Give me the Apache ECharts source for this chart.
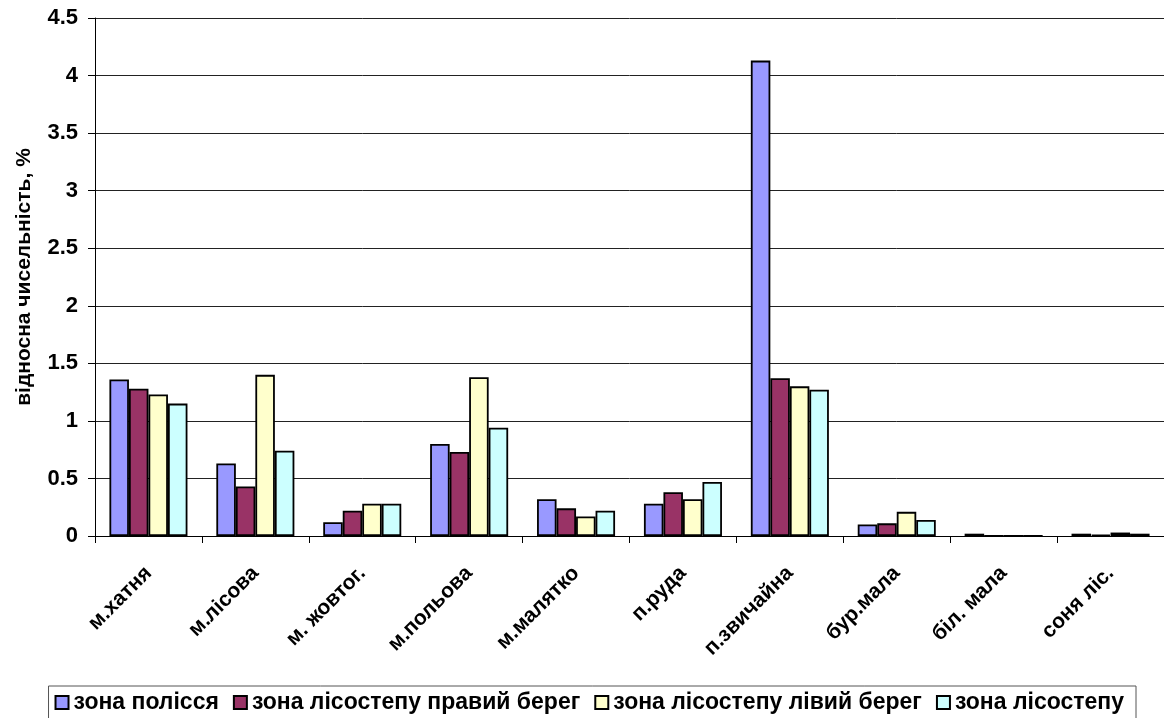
<!DOCTYPE html>
<html>
<head>
<meta charset="utf-8">
<script src="https://cdn.jsdelivr.net/npm/echarts@6/dist/echarts.min.js"></script>
<style>
  html, body { margin: 0; padding: 0; background: #fff; }
  #chart { width: 1164px; height: 718px; }
</style>
</head>
<body>
<div id="chart"></div>
<script>
// Species (categories along the x axis)
const categories = ['м.хатня', 'м.лісова', 'м. жовтог.', 'м.польова', 'м.малятко',
                    'п.руда', 'п.звичайна', 'бур.мала', 'біл. мала', 'соня ліс.'];

// Relative abundance, % — one array per zone
const polissia       = [1.36, 0.63, 0.12, 0.80, 0.32, 0.28, 4.13, 0.10, 0.02, 0.02];
const lisostepRight  = [1.28, 0.43, 0.22, 0.73, 0.24, 0.38, 1.37, 0.11, 0,    0.01];
const lisostepLeft   = [1.23, 1.40, 0.28, 1.38, 0.17, 0.32, 1.30, 0.21, 0,    0.03];
const lisostep       = [1.15, 0.74, 0.28, 0.94, 0.22, 0.47, 1.27, 0.14, 0,    0.02];

const seriesNames = ['зона полісся', 'зона лісостепу правий берег',
                     'зона лісостепу лівий берег', 'зона лісостепу'];
const seriesColors = ['#9999FF', '#993366', '#FFFFCC', '#CCFFFF'];
const seriesData = [polissia, lisostepRight, lisostepLeft, lisostep];

const yAxisName = 'відносна чисельність, %';

const FONT = '"Liberation Sans", Arial, sans-serif';

const chart = echarts.init(document.getElementById('chart'));

chart.setOption({
  animation: false,
  backgroundColor: '#fff',
  textStyle: { fontFamily: FONT },
  grid: { left: 95, right: -5, top: 18, bottom: 182, containLabel: false },
  legend: {
    right: 28,
    top: 686,
    data: seriesNames,
    itemWidth: 13,
    itemHeight: 13,
    itemGap: 14,
    padding: [5, 12, 5, 6],
    borderColor: '#555',
    borderWidth: 1,
    backgroundColor: '#fff',
    icon: 'rect',
    textStyle: { fontFamily: FONT, fontWeight: 'bold', fontSize: 23, color: '#000' }
  },
  xAxis: {
    type: 'category',
    data: categories,
    axisLine: { lineStyle: { color: '#000', width: 1 } },
    axisTick: { show: true, alignWithLabel: false, length: 7, lineStyle: { color: '#000' } },
    axisLabel: {
      rotate: 45,
      interval: 0,
      margin: 34,
      fontFamily: FONT,
      fontWeight: 'bold',
      fontSize: 21,
      color: '#000'
    }
  },
  yAxis: {
    type: 'value',
    min: 0,
    max: 4.5,
    interval: 0.5,
    name: yAxisName,
    nameLocation: 'middle',
    nameGap: 60,
    nameRotate: 90,
    nameTextStyle: { fontFamily: FONT, fontWeight: 'bold', fontSize: 21, color: '#000' },
    axisLine: { show: true, lineStyle: { color: '#000', width: 1 } },
    axisTick: { show: true, inside: false, length: 7, lineStyle: { color: '#000' } },
    axisLabel: {
      margin: 17,
      fontFamily: FONT,
      fontWeight: 'bold',
      fontSize: 22,
      color: '#000',
      formatter: v => String(v)
    },
    splitLine: { show: true, lineStyle: { color: '#222', width: 1 } }
  },
  series: seriesNames.map((name, i) => ({
    name,
    type: 'bar',
    data: seriesData[i],
    barGap: '0%',
    barCategoryGap: '27%',
    itemStyle: {
      color: seriesColors[i],
      borderColor: '#000',
      borderWidth: 1.8
    }
  }))
});
</script>
</body>
</html>
